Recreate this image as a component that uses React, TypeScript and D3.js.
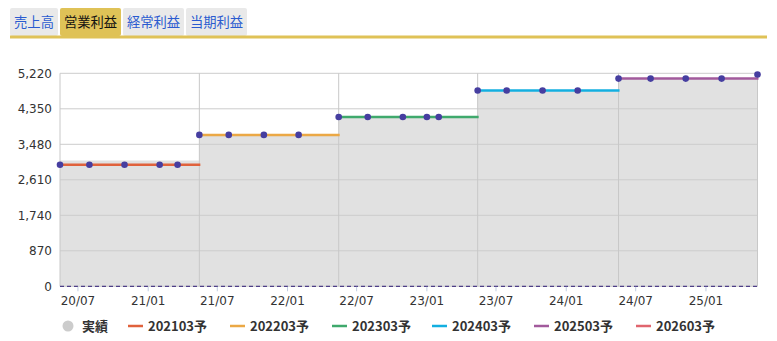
import React from 'react';
import * as d3 from 'd3';

const tabLabels = ['売上高', '営業利益', '経常利益', '当期利益'];
const activeTab = 1;

const seriesNames = ['202103予', '202203予', '202303予', '202403予', '202503予', '202603予'];
const seriesColors = ['#e0623c', '#eba845', '#3fa96c', '#13afe0', '#a25a9c', '#e0656e'];
const forecastDates = [
  ['2020-05-15', '2020-07-31', '2020-10-31', '2021-01-31', '2021-03-19'],
  ['2021-05-15', '2021-07-31', '2021-10-31', '2022-01-30'],
  ['2022-05-15', '2022-07-30', '2022-10-30', '2023-01-01', '2023-02-01'],
  ['2023-05-14', '2023-07-29', '2023-10-31', '2024-01-31'],
  ['2024-05-17', '2024-08-09', '2024-11-09', '2025-02-11'],
  ['2025-05-16'],
];
const forecastValues = [
  [2980, 2980, 2980, 2980, 2980],
  [3710, 3710, 3710, 3710],
  [4150, 4150, 4150, 4150, 4150],
  [4800, 4800, 4800, 4800],
  [5090, 5090, 5090, 5090],
  [5190],
];
const actualLabel = '実績';
const actualStarts = ['2020-05-15', '2021-05-15', '2022-05-15', '2023-05-14', '2024-05-17'];
const actualEnd = '2025-05-16';
const actualValues = [3080, 3710, 4150, 4800, 5090];

const xTickLabels = ['20/07', '21/01', '21/07', '22/01', '22/07', '23/01', '23/07', '24/01', '24/07', '25/01'];
const yTicks = [0, 870, 1740, 2610, 3480, 4350, 5220];

const parseDate = d3.timeParse('%Y-%m-%d');
const parseTick = d3.timeParse('%y/%m');
const FONT = '"Noto Sans CJK JP", "Noto Sans", sans-serif';

export default function App() {
  const W = 777, H = 341;
  const left = 60, right = 757.5, top = 73.3, bottom = 286.3;
  const x = d3.scaleTime()
    .domain([parseDate('2020-05-15')!, parseDate(actualEnd)!])
    .range([left, right]);
  const y = d3.scaleLinear().domain([0, 5220]).range([bottom, top]);
  const fmt = d3.format(',');

  const areaPts: [Date, number][] = [];
  actualStarts.forEach((s, i) => {
    const start = parseDate(s)!;
    const end = parseDate(i + 1 < actualStarts.length ? actualStarts[i + 1] : actualEnd)!;
    areaPts.push([start, actualValues[i]]);
    areaPts.push([end, actualValues[i]]);
  });
  const area = d3.area<[Date, number]>()
    .x(d => x(d[0]))
    .y0(y(0))
    .y1(d => y(d[1]));

  const vGrid = [...actualStarts.slice(1), actualEnd].map(s => x(parseDate(s)!));

  const tabX = [10, 60, 123, 186];
  const tabW = [48, 61, 61, 61];

  const legendItems = [actualLabel, ...seriesNames];
  const legendX = [68, 128, 230, 332, 432, 534, 636];

  return (
    <svg width={W} height={H} style={{ position: 'absolute', left: 0, top: 0, background: '#fff' }}
      fontFamily={FONT}>
      {tabLabels.map((t, i) => (
        <g key={t}>
          <rect x={tabX[i]} y={8} width={tabW[i]} height={28} rx={2}
            fill={i === activeTab ? '#dfc257' : '#e9e9e9'} />
          <text x={tabX[i] + tabW[i] / 2} y={27} textAnchor="middle" fontSize={13.3}
            fill={i === activeTab ? '#111' : '#2a5bd0'}>{t}</text>
        </g>
      ))}
      <rect x={10} y={35.5} width={757} height={3} fill="#dfc257" />

      <path d={area(areaPts) || ''} fill="#e1e1e1" />

      {yTicks.map(t => (
        <line key={t} x1={left} x2={right} y1={y(t)} y2={y(t)} stroke="#cccccc" strokeWidth={1} />
      ))}
      {vGrid.map((vx, i) => (
        <line key={i} x1={vx} x2={vx} y1={top} y2={bottom} stroke="#c8c8c8" strokeWidth={1} />
      ))}
      <line x1={left} x2={left} y1={top} y2={bottom} stroke="#c8c8c8" strokeWidth={1} />

      {yTicks.map(t => (
        <text key={t} x={52} y={y(t) + 4.5} textAnchor="end" fontSize={12} fill="#333"
          fontFamily="Verdana, 'DejaVu Sans', sans-serif">{fmt(t)}</text>
      ))}

      <line x1={left} x2={right} y1={bottom} y2={bottom} stroke="#4e3f88" strokeWidth={1.2} strokeDasharray="4,3" />

      {xTickLabels.map(l => {
        const tx = x(parseTick(l)!);
        return (
          <g key={l}>
            <line x1={tx} x2={tx} y1={bottom + 0.5} y2={bottom + 5} stroke="#c0cce0" strokeWidth={1} />
            <text x={tx} y={305} textAnchor="middle" fontSize={12} fill="#333"
              fontFamily="Verdana, 'DejaVu Sans', sans-serif">{l}</text>
          </g>
        );
      })}

      {forecastDates.map((ds, i) => {
        if (ds.length < 2 && i === forecastDates.length - 1) return null;
        const startD = parseDate(ds[0])!;
        const endD = i + 1 < forecastDates.length ? parseDate(forecastDates[i + 1][0])! : parseDate(actualEnd)!;
        const pts: [number, number][] = [
          [x(startD), y(forecastValues[i][0])],
          ...ds.map((d, j) => [x(parseDate(d)!), y(forecastValues[i][j])] as [number, number]),
          [x(endD) + 1, y(forecastValues[i][forecastValues[i].length - 1])],
        ];
        return (
          <path key={i} d={d3.line()(pts) || ''} fill="none" stroke={seriesColors[i]} strokeWidth={2.5} />
        );
      })}

      {forecastDates.map((ds, i) => ds.map((d, j) => (
        <circle key={`${i}-${j}`} cx={x(parseDate(d)!)} cy={y(forecastValues[i][j])} r={3.3} fill="#463ea0" />
      )))}

      {legendItems.map((l, i) => (
        <g key={l}>
          {i === 0
            ? <circle cx={legendX[0]} cy={326} r={5.5} fill="#cccccc" />
            : <line x1={legendX[i]} x2={legendX[i] + 15} y1={326} y2={326} stroke={seriesColors[i - 1]} strokeWidth={2.5} />}
          <text x={i === 0 ? 82 : legendX[i] + 20} y={330.5} fontSize={13} fontWeight={600} fill="#333">{l}</text>
        </g>
      ))}
    </svg>
  );
}
